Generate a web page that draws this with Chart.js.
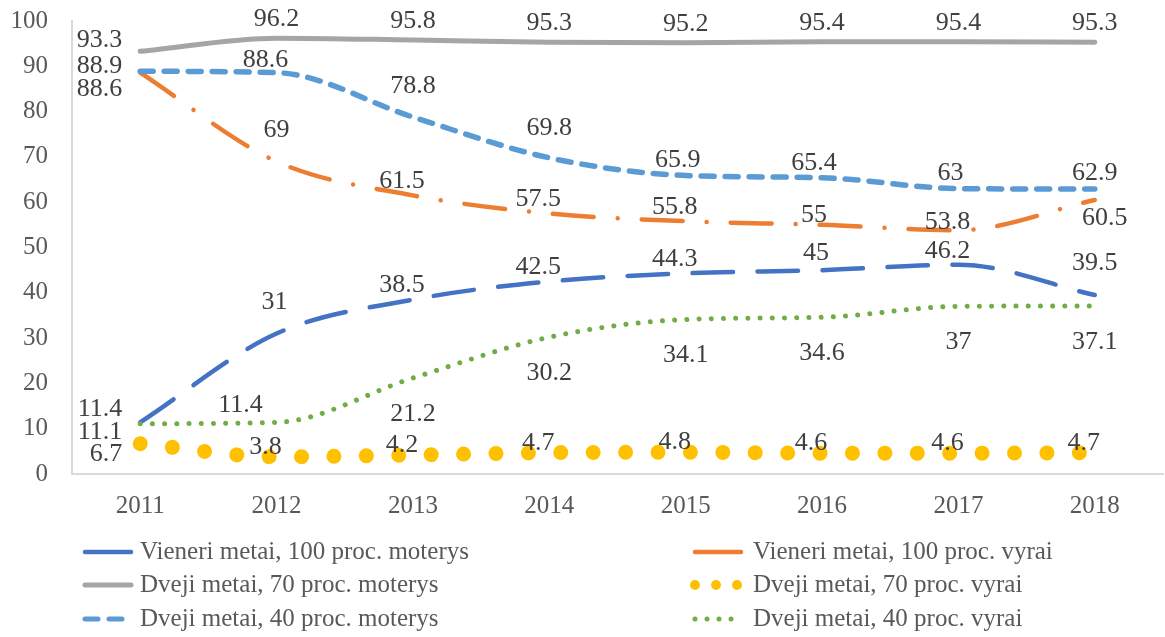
<!DOCTYPE html>
<html lang="lt">
<head>
<meta charset="UTF-8">
<title>Chart</title>
<script src="https://cdn.jsdelivr.net/npm/chart.js@4.4.1/dist/chart.umd.min.js"></script>
<style>
    html, body { margin:0; padding:0; background:#fff; }
    #board { width:1165px; height:637px; }
</style>
</head>
<body>
<div id="board">
    <canvas id="chart1" width="1165" height="637"></canvas>
</div>
<script>
    const years = ['2011','2012','2013','2014','2015','2016','2017','2018'];
    const yTicks = [0,10,20,30,40,50,60,70,80,90,100];

    const vieneriMoterys = [11.4, 31, 38.5, 42.5, 44.3, 45, 46.2, 39.5];
    const vieneriVyrai   = [88.6, 69, 61.5, 57.5, 55.8, 55, 53.8, 60.5];
    const dveji70Moterys = [93.3, 96.2, 95.8, 95.3, 95.2, 95.4, 95.4, 95.3];
    const dveji70Vyrai   = [6.7, 3.8, 4.2, 4.7, 4.8, 4.6, 4.6, 4.7];
    const dveji40Moterys = [88.9, 88.6, 78.8, 69.8, 65.9, 65.4, 63, 62.9];
    const dveji40Vyrai   = [11.1, 11.4, 21.2, 30.2, 34.1, 34.6, 37, 37.1];

    const FONT = "'Liberation Serif', 'Times New Roman', serif";

    // where each value label sits relative to its point: default [dx,dy],
    // the first point goes to the left of the line, a few are moved by hand
    const labelShift = [
        { def:[-11,-14], first:-13, over:{1:[-2,-31], 5:[-6,-17], 7:[0,-32]} },
        { def:[-11,-14], first:17,  over:{1:[0,-31], 5:[-8,-10], 6:[-11,-8], 7:[10,18]} },
        { def:[0,-19],   first:-11, over:{} },
        { def:[-11,-10], first:11,  over:{} },
        { def:[-8,-15],  first:-5,  over:{1:[-11,-12], 2:[0,-31], 3:[0,-30], 7:[0,-16]} },
        { def:[0,36],    first:8,   over:{1:[-36,-17]} }
    ];

    const valueLabels = {
        id:'valueLabels',
        afterDatasetsDraw(chart){
            const ctx = chart.ctx;
            ctx.save();
            ctx.font = "26px " + FONT;
            ctx.fillStyle = '#404040';
            ctx.textBaseline = 'middle';
            chart.data.datasets.forEach((ds, i) => {
                const meta = chart.getDatasetMeta(i);
                const s = labelShift[i];
                meta.data.forEach((pt, j) => {
                    const txt = String(ds.data[j]);
                    if (j === 0) {
                        ctx.textAlign = 'right';
                        ctx.fillText(txt, pt.x - 18, pt.y + s.first);
                        return;
                    }
                    const d = s.over[j] || s.def;
                    ctx.textAlign = 'center';
                    ctx.fillText(txt, pt.x + d[0], pt.y + d[1]);
                });
            });
            ctx.restore();
        }
    };

    // two column legend under the plot, like the original
    const sideLegend = {
        id:'sideLegend',
        afterDraw(chart){
            const ctx = chart.ctx;
            const rows = [552, 585, 619];
            const cols = [{x0:85, x1:131, tx:140}, {x0:695, x1:741, tx:753}];
            ctx.save();
            chart.data.datasets.forEach((ds, i) => {
                const c = cols[i % 2];
                const y = rows[Math.floor(i / 2)];
                ctx.beginPath();
                ctx.strokeStyle = ds.borderColor;
                ctx.lineWidth = ds.legendWidth || ds.borderWidth;
                ctx.lineCap = 'round';
                ctx.setLineDash(ds.legendDash);
                ctx.moveTo(c.x0, y);
                ctx.lineTo(c.x1, y);
                ctx.stroke();
                ctx.setLineDash([]);
                ctx.font = "25px " + FONT;
                ctx.fillStyle = '#595959';
                ctx.textAlign = 'left';
                ctx.textBaseline = 'middle';
                ctx.fillText(ds.label, c.tx, y);
            });
            ctx.restore();
        }
    };

    const ctx = document.getElementById('chart1').getContext('2d');
    new Chart(ctx, {
        type:'line',
        data:{
            labels:years,
            datasets:[
                { label:'Vieneri metai, 100 proc. moterys', data:vieneriMoterys, borderColor:'#4472C4',
                  borderWidth:4.5, borderDash:[40.5,24.5], legendDash:[], order:0 },
                { label:'Vieneri metai, 100 proc. vyrai', data:vieneriVyrai, borderColor:'#ED7D31',
                  borderWidth:4.5, borderDash:[41,24,0.01,24], legendDash:[], order:-1 },
                { label:'Dveji metai, 70 proc. moterys', data:dveji70Moterys, borderColor:'#A5A5A5',
                  borderWidth:5, borderDash:[], legendDash:[], order:-2 },
                { label:'Dveji metai, 70 proc. vyrai', data:dveji70Vyrai, borderColor:'#FFC000',
                  borderWidth:15, borderDash:[0.01,32.4], legendDash:[0.01,21], legendWidth:10, order:-3 },
                { label:'Dveji metai, 40 proc. moterys', data:dveji40Moterys, borderColor:'#5B9BD5',
                  borderWidth:5.5, borderDash:[13,11], legendDash:[13,11], legendWidth:5, order:-4 },
                { label:'Dveji metai, 40 proc. vyrai', data:dveji40Vyrai, borderColor:'#70AD47',
                  borderWidth:5, borderDash:[0.01,12.2], legendDash:[0.01,12], order:-5 }
            ]
        },
        options:{
            responsive:false,
            animation:false,
            layout:{ padding:{ top:21, right:2, bottom:113, left:0 } },
            elements:{
                line:{ cubicInterpolationMode:'monotone', fill:false, borderCapStyle:'round', borderJoinStyle:'round' },
                point:{ radius:0, hoverRadius:0 }
            },
            plugins:{
                legend:{ display:false },
                tooltip:{ enabled:false }
            },
            scales:{
                x:{
                    offset:true,
                    grid:{ display:false, drawTicks:false },
                    border:{ display:true, color:'#d9d9d9', width:2 },
                    ticks:{ color:'#595959', font:{ family:FONT, size:25 }, padding:17, maxRotation:0 },
                    afterFit(scale){ scale.height = 50; scale.paddingLeft = 0; scale.paddingRight = 0; }
                },
                y:{
                    min:0, max:100,
                    grid:{ display:false, drawTicks:false },
                    border:{ display:true, color:'#d9d9d9', width:2 },
                    afterBuildTicks(scale){ scale.ticks = yTicks.map(v => ({ value:v })); },
                    ticks:{ color:'#595959', font:{ family:FONT, size:25 }, padding:24 },
                    afterFit(scale){ scale.width = 72; scale.paddingTop = 0; scale.paddingBottom = 0; }
                }
            }
        },
        plugins:[valueLabels, sideLegend]
    });
</script>
</body>
</html>
